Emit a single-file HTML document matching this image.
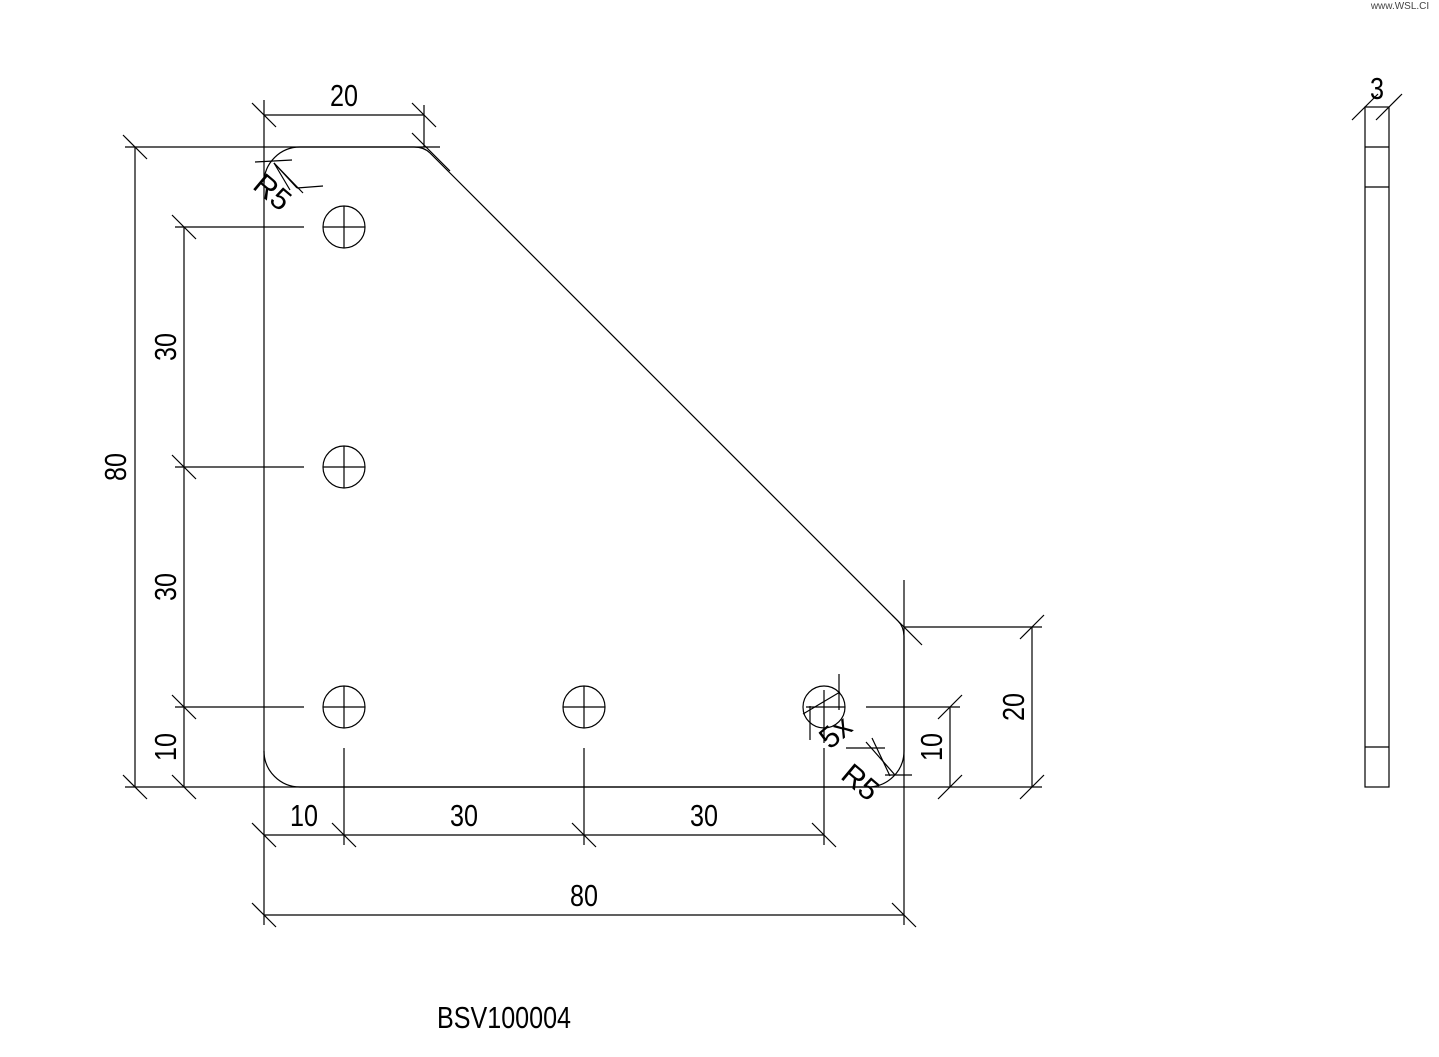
<!DOCTYPE html>
<html><head><style>
html,body{margin:0;padding:0;background:#fff;}
svg{display:block;}
text{font-family:"Liberation Sans",sans-serif;font-size:31px;fill:#000;}
</style></head><body>
<svg width="1439" height="1057" viewBox="0 0 1439 1057" xmlns="http://www.w3.org/2000/svg">
<g stroke="#000" stroke-width="1.2" fill="none">
<path d="M264 183 A36 36 0 0 1 300 147 L414 147 Q424 147 430 153 L898 621 Q904 627 904 637 L904 751 A36 36 0 0 1 868 787 L300 787 A36 36 0 0 1 264 751"/>
<line x1="264" y1="100" x2="264" y2="925"/>
<line x1="125" y1="147" x2="440" y2="147"/>
<line x1="125" y1="787" x2="1042" y2="787"/>
<line x1="424" y1="105" x2="424" y2="147"/>
<line x1="904" y1="580" x2="904" y2="925"/>
<line x1="175" y1="227" x2="304" y2="227"/>
<line x1="175" y1="467" x2="304" y2="467"/>
<line x1="175" y1="707" x2="304" y2="707"/>
<line x1="344" y1="748" x2="344" y2="845"/>
<line x1="584" y1="748" x2="584" y2="845"/>
<line x1="824" y1="748" x2="824" y2="845"/>
<line x1="904" y1="627" x2="1042" y2="627"/>
<line x1="866" y1="707" x2="960" y2="707"/>
<line x1="264" y1="115" x2="424" y2="115"/>
<line x1="135" y1="147" x2="135" y2="787"/>
<line x1="184" y1="227" x2="184" y2="787"/>
<line x1="264" y1="835" x2="824" y2="835"/>
<line x1="264" y1="915" x2="904" y2="915"/>
<line x1="1032" y1="627" x2="1032" y2="787"/>
<line x1="950" y1="707" x2="950" y2="787"/>
<g>
<line x1="252" y1="103" x2="276" y2="127"/>
<line x1="412" y1="103" x2="436" y2="127"/>
<line x1="412" y1="133" x2="450" y2="171"/>
<line x1="252" y1="823" x2="276" y2="847"/>
<line x1="332" y1="823" x2="356" y2="847"/>
<line x1="572" y1="823" x2="596" y2="847"/>
<line x1="812" y1="823" x2="836" y2="847"/>
<line x1="252" y1="903" x2="276" y2="927"/>
<line x1="892" y1="903" x2="916" y2="927"/>
<line x1="892" y1="615" x2="922" y2="645"/>
<line x1="123" y1="135" x2="147" y2="159"/>
<line x1="123" y1="775" x2="147" y2="799"/>
<line x1="172" y1="215" x2="196" y2="239"/>
<line x1="172" y1="455" x2="196" y2="479"/>
<line x1="172" y1="695" x2="196" y2="719"/>
<line x1="172" y1="775" x2="196" y2="799"/>
</g>
<line x1="1020" y1="639" x2="1044" y2="615"/>
<line x1="1020" y1="799" x2="1044" y2="775"/>
<line x1="938" y1="719" x2="962" y2="695"/>
<line x1="938" y1="799" x2="962" y2="775"/>
<g>
<circle cx="344" cy="227" r="21"/><line x1="323" y1="227" x2="365" y2="227"/><line x1="344" y1="206" x2="344" y2="248"/>
<circle cx="344" cy="467" r="21"/><line x1="323" y1="467" x2="365" y2="467"/><line x1="344" y1="446" x2="344" y2="488"/>
<circle cx="344" cy="707" r="21"/><line x1="323" y1="707" x2="365" y2="707"/><line x1="344" y1="686" x2="344" y2="728"/>
<circle cx="584" cy="707" r="21"/><line x1="563" y1="707" x2="605" y2="707"/><line x1="584" y1="686" x2="584" y2="728"/>
<circle cx="824" cy="707" r="21"/><line x1="806" y1="707" x2="845" y2="707"/><line x1="824" y1="690" x2="824" y2="743"/>
<line x1="839" y1="674" x2="839" y2="710"/><line x1="810" y1="706" x2="810" y2="740"/>
<line x1="803" y1="714" x2="840" y2="692"/>
</g>
<!-- R5 leaders top-left -->
<line x1="255" y1="162" x2="292" y2="160"/>
<line x1="274" y1="163" x2="303" y2="193"/>
<line x1="274" y1="163" x2="297" y2="188"/>
<line x1="274" y1="163" x2="290" y2="190"/>
<line x1="297" y1="188" x2="323" y2="186"/>
<!-- R5 leaders bottom-right -->
<line x1="846" y1="748" x2="885" y2="748"/>
<line x1="866" y1="742" x2="895" y2="775"/>
<line x1="872" y1="738" x2="890" y2="776"/>
<line x1="885" y1="775" x2="912" y2="775"/>
<rect x="1365" y="107" width="24" height="680"/>
<line x1="1365" y1="147" x2="1389" y2="147"/>
<line x1="1365" y1="187" x2="1389" y2="187"/>
<line x1="1365" y1="747" x2="1389" y2="747"/>
<line x1="1352" y1="120" x2="1378" y2="94"/>
<line x1="1376" y1="120" x2="1402" y2="94"/>
</g>
<text x="344" y="106" text-anchor="middle" textLength="28" lengthAdjust="spacingAndGlyphs">20</text>
<text x="304" y="826" text-anchor="middle" textLength="28" lengthAdjust="spacingAndGlyphs">10</text>
<text x="464" y="826" text-anchor="middle" textLength="28" lengthAdjust="spacingAndGlyphs">30</text>
<text x="704" y="826" text-anchor="middle" textLength="28" lengthAdjust="spacingAndGlyphs">30</text>
<text x="584" y="906" text-anchor="middle" textLength="28" lengthAdjust="spacingAndGlyphs">80</text>
<text x="1377" y="99" text-anchor="middle" textLength="14" lengthAdjust="spacingAndGlyphs">3</text>
<text transform="translate(126,467) rotate(-90)" text-anchor="middle" textLength="28" lengthAdjust="spacingAndGlyphs">80</text>
<text transform="translate(176,347) rotate(-90)" text-anchor="middle" textLength="28" lengthAdjust="spacingAndGlyphs">30</text>
<text transform="translate(176,587) rotate(-90)" text-anchor="middle" textLength="28" lengthAdjust="spacingAndGlyphs">30</text>
<text transform="translate(176,747) rotate(-90)" text-anchor="middle" textLength="28" lengthAdjust="spacingAndGlyphs">10</text>
<text transform="translate(942,747) rotate(-90)" text-anchor="middle" textLength="28" lengthAdjust="spacingAndGlyphs">10</text>
<text transform="translate(1024,707) rotate(-90)" text-anchor="middle" textLength="28" lengthAdjust="spacingAndGlyphs">20</text>
<text transform="translate(266,200) rotate(40)" text-anchor="middle" style="font-size:30px">R5</text>
<text transform="translate(854,790) rotate(40)" text-anchor="middle" style="font-size:30px">R5</text>
<text transform="translate(842,740) rotate(-40)" text-anchor="middle" style="font-size:30px">5x</text>
<text x="504" y="1028" text-anchor="middle" textLength="134" lengthAdjust="spacingAndGlyphs">BSV100004</text>
<text x="1400" y="9" text-anchor="middle" style="font-size:10px;fill:#444">www.WSL.CI</text>
</svg>
</body></html>
